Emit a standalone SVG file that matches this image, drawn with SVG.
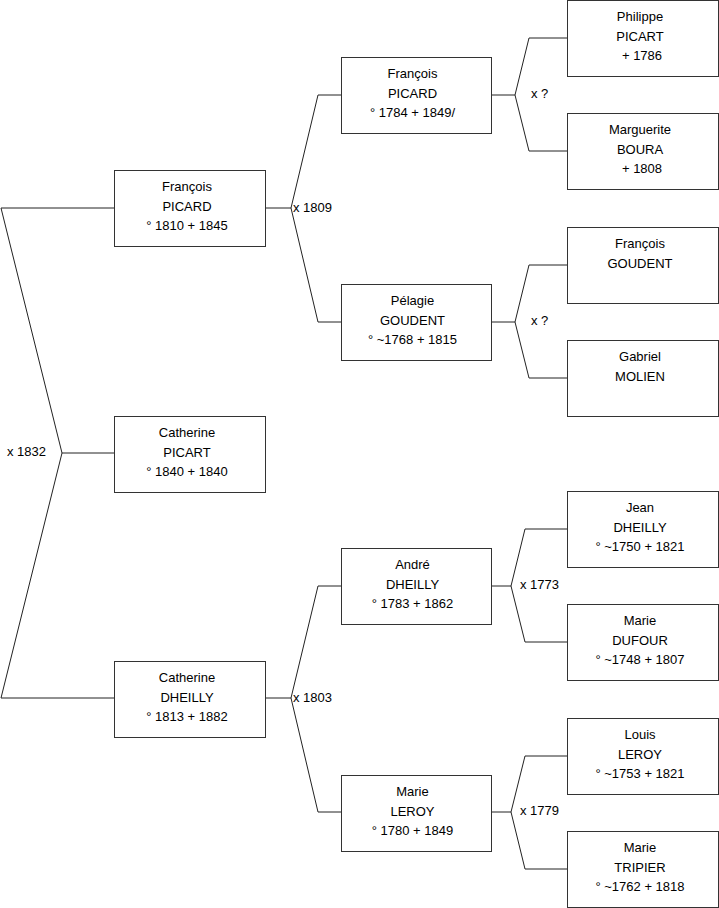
<svg xmlns="http://www.w3.org/2000/svg" width="719" height="908" viewBox="0 0 719 908">
<style>
.box{fill:#fff;stroke:#333;stroke-width:1}
.ln{fill:none;stroke:#222;stroke-width:1}
text{font-family:"Liberation Sans",Arial,sans-serif;font-size:13px;fill:#000}
.c{text-anchor:middle}
</style>
<rect width="719" height="908" fill="#fff"/>
<g id="connectors">
<path class="ln" d="M114,208 H1 L62,453 L1,698 H114 M62,453 H114"/>
<path class="ln" d="M265,208 H291 L318,95 H341 M291,208 L318,322 H341"/>
<path class="ln" d="M265,698 H291 L318,586 H341 M291,698 L318,812 H341"/>
<path class="ln" d="M491,95 H515 L529,38 H567 M515,95 L529,151 H567"/>
<path class="ln" d="M491,322 H515 L529,265 H567 M515,322 L529,378 H567"/>
<path class="ln" d="M491,586 H511 L525,529 H567 M511,586 L525,642 H567"/>
<path class="ln" d="M491,812 H511 L525,756 H567 M511,812 L525,869 H567"/>
<text x="7" y="456">x 1832</text>
<text x="293" y="212">x 1809</text>
<text x="293" y="702">x 1803</text>
<text x="531" y="98">x ?</text>
<text x="531" y="325">x ?</text>
<text x="520" y="589">x 1773</text>
<text x="520" y="815">x 1779</text>
</g>
<g id="n-francois-picard-1810"><rect class="box" x="114.5" y="170.5" width="151" height="76"/>
<text class="c" x="187" y="191">François</text><text class="c" x="187" y="210.5">PICARD</text><text class="c" x="187" y="230">° 1810 + 1845</text></g>
<g id="n-catherine-picart"><rect class="box" x="114.5" y="416.5" width="151" height="76"/>
<text class="c" x="187" y="437">Catherine</text><text class="c" x="187" y="456.5">PICART</text><text class="c" x="187" y="476">° 1840 + 1840</text></g>
<g id="n-catherine-dheilly"><rect class="box" x="114.5" y="661.5" width="151" height="76"/>
<text class="c" x="187" y="682">Catherine</text><text class="c" x="187" y="701.5">DHEILLY</text><text class="c" x="187" y="721">° 1813 + 1882</text></g>
<g id="n-francois-picard-1784"><rect class="box" x="341.5" y="57.5" width="150" height="76"/>
<text class="c" x="412.5" y="78">François</text><text class="c" x="412.5" y="97.5">PICARD</text><text class="c" x="412.5" y="117">° 1784 + 1849/</text></g>
<g id="n-pelagie-goudent"><rect class="box" x="341.5" y="284.5" width="150" height="76"/>
<text class="c" x="412.5" y="305">Pélagie</text><text class="c" x="412.5" y="324.5">GOUDENT</text><text class="c" x="412.5" y="344">° ~1768 + 1815</text></g>
<g id="n-andre-dheilly"><rect class="box" x="341.5" y="548.5" width="150" height="76"/>
<text class="c" x="412.5" y="569">André</text><text class="c" x="412.5" y="588.5">DHEILLY</text><text class="c" x="412.5" y="608">° 1783 + 1862</text></g>
<g id="n-marie-leroy"><rect class="box" x="341.5" y="775.5" width="150" height="76"/>
<text class="c" x="412.5" y="796">Marie</text><text class="c" x="412.5" y="815.5">LEROY</text><text class="c" x="412.5" y="835">° 1780 + 1849</text></g>
<g id="n-philippe-picart"><rect class="box" x="567.5" y="0.5" width="151" height="76"/>
<text class="c" x="640" y="21">Philippe</text><text class="c" x="640" y="40.5">PICART</text><text class="c" x="642" y="60">+ 1786</text></g>
<g id="n-marguerite-boura"><rect class="box" x="567.5" y="113.5" width="151" height="76"/>
<text class="c" x="640" y="134">Marguerite</text><text class="c" x="640" y="153.5">BOURA</text><text class="c" x="642" y="173">+ 1808</text></g>
<g id="n-francois-goudent"><rect class="box" x="567.5" y="227.5" width="151" height="76"/>
<text class="c" x="640" y="248">François</text><text class="c" x="640" y="267.5">GOUDENT</text></g>
<g id="n-gabriel-molien"><rect class="box" x="567.5" y="340.5" width="151" height="76"/>
<text class="c" x="640" y="361">Gabriel</text><text class="c" x="640" y="380.5">MOLIEN</text></g>
<g id="n-jean-dheilly"><rect class="box" x="567.5" y="491.5" width="151" height="76"/>
<text class="c" x="640" y="512">Jean</text><text class="c" x="640" y="531.5">DHEILLY</text><text class="c" x="640" y="551">° ~1750 + 1821</text></g>
<g id="n-marie-dufour"><rect class="box" x="567.5" y="604.5" width="151" height="76"/>
<text class="c" x="640" y="625">Marie</text><text class="c" x="640" y="644.5">DUFOUR</text><text class="c" x="640" y="664">° ~1748 + 1807</text></g>
<g id="n-louis-leroy"><rect class="box" x="567.5" y="718.5" width="151" height="76"/>
<text class="c" x="640" y="739">Louis</text><text class="c" x="640" y="758.5">LEROY</text><text class="c" x="640" y="778">° ~1753 + 1821</text></g>
<g id="n-marie-tripier"><rect class="box" x="567.5" y="831.5" width="151" height="76"/>
<text class="c" x="640" y="852">Marie</text><text class="c" x="640" y="871.5">TRIPIER</text><text class="c" x="640" y="891">° ~1762 + 1818</text></g>
</svg>
